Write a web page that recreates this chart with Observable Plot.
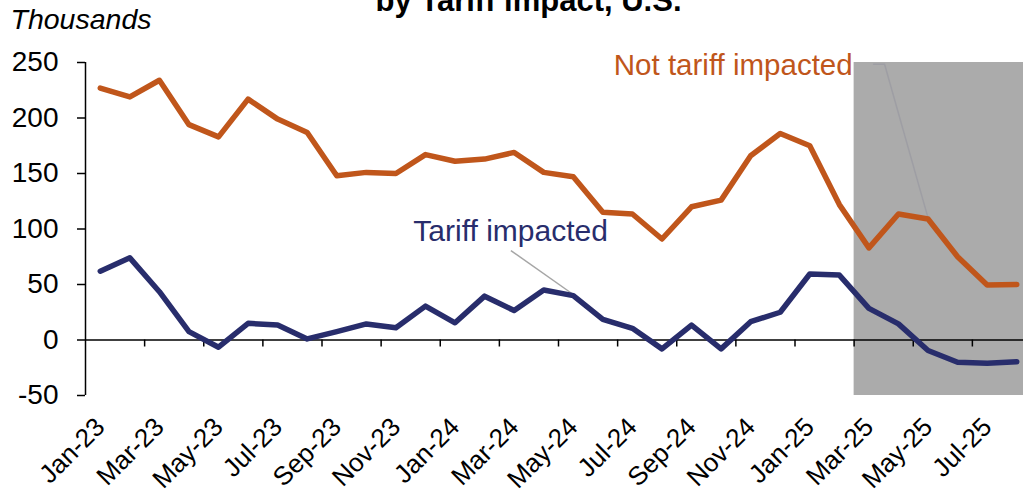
<!DOCTYPE html>
<html>
<head>
<meta charset="utf-8">
<script src="https://cdn.jsdelivr.net/npm/d3@7"></script>
<script src="https://cdn.jsdelivr.net/npm/@observablehq/plot@0.6"></script>
<style>
html, body { margin: 0; padding: 0; overflow: hidden; background: #fff; }
</style>
</head>
<body>
<div id="chart"></div>
<script>
// ---- data ----
const months = ["Jan-23","Feb-23","Mar-23","Apr-23","May-23","Jun-23","Jul-23","Aug-23","Sep-23","Oct-23","Nov-23","Dec-23",
                "Jan-24","Feb-24","Mar-24","Apr-24","May-24","Jun-24","Jul-24","Aug-24","Sep-24","Oct-24","Nov-24","Dec-24",
                "Jan-25","Feb-25","Mar-25","Apr-25","May-25","Jun-25","Jul-25","Aug-25"];
const notTariffImpacted = [227,219,234,194,183,217,199,187,148,151,150,167,161,163,169,151,147,115,113.5,91,120,126,166,186,175,122,83,113.5,109,75,49.5,50];
const tariffImpacted    = [62,74,43.5,7.5,-6.5,15,13.5,1,7.5,14.5,11,30.5,15.5,39.5,26.5,45,40,18.5,10.5,-8,13.5,-8,16.5,25,59.5,58.5,28.5,14.5,-9.5,-20,-21,-19.5];
const yTicks = [-50, 0, 50, 100, 150, 200, 250];
const xTickLabels = ["Jan-23","Mar-23","May-23","Jul-23","Sep-23","Nov-23","Jan-24","Mar-24","May-24","Jul-24","Sep-24","Nov-24","Jan-25","Mar-25","May-25","Jul-25"];
const shadedFrom = "Mar-25";
const titleText = "by Tariff impact, U.S.";
const unitText = "Thousands";
const labelNotTariff = {text: "Not tariff impacted", x: 25.45, y: 238.7};
const labelTariff = {text: "Tariff impacted", x: 10.59, y: 89.6};
const leaderNotTariff = [{x: 26.16, y: 248.4}, {x: 26.53, y: 248.4}, {x: 28, y: 110}];
const leaderTariff = [{x1: 13.89, y1: 80.6, x2: 16, y2: 41}];

// ---- derived ----
const ORANGE = "#C0561B";
const NAVY = "#282D6C";
const data = months.map((m, i) => ({i, month: m, nt: notTariffImpacted[i], t: tariffImpacted[i]}));
const n = months.length;
const boundaries = d3.range(1.5, n, 2);
const shade = [{x1: months.indexOf(shadedFrom) - 0.5, x2: n - 0.5, y1: d3.min(yTicks), y2: d3.max(yTicks)}];
const labelData = xTickLabels.map(l => ({x: months.indexOf(l), label: l}));

const chart = Plot.plot({
  width: 1023,
  height: 501,
  marginLeft: 85,
  marginRight: 0,
  marginTop: 62,
  marginBottom: 106,
  style: {fontFamily: "'Liberation Sans', Arial, sans-serif", background: "#fff", overflow: "hidden", color: "#000"},
  x: {domain: [-0.5, n - 0.5], range: [85, 1031], axis: null},
  y: {domain: [d3.min(yTicks), d3.max(yTicks)], axis: null},
  marks: [
    Plot.rect(shade, {x1: "x1", x2: "x2", y1: "y1", y2: "y2", fill: "#ABABAB"}),
    Plot.ruleX([-0.5], {y1: d3.min(yTicks), y2: d3.max(yTicks), stroke: "#000", strokeWidth: 1.5}),
    Plot.axisY(yTicks, {tickSize: 8, tickPadding: 19, fontSize: 28, tickFormat: d => String(d), stroke: "#000", strokeWidth: 1.5}),
    Plot.ruleY([0], {stroke: "#000", strokeWidth: 1.5}),
    Plot.ruleX(boundaries, {x: d => d, y1: 0, y2: 0, insetBottom: -7, stroke: "#000", strokeWidth: 1.5}),
    Plot.text(labelData, {x: "x", text: "label", frameAnchor: "bottom", rotate: -45, textAnchor: "end", lineAnchor: "bottom", dx: 6, dy: 33, fontSize: 26, fill: "#000"}),
    Plot.link(leaderTariff, {x1: "x1", y1: "y1", x2: "x2", y2: "y2", stroke: "#A6A6A6", strokeWidth: 1.5}),
    Plot.line(leaderNotTariff, {x: "x", y: "y", stroke: "#9E9EA4", strokeWidth: 1.5}),
    Plot.line(data, {x: "i", y: "nt", stroke: ORANGE, strokeWidth: 5.5, strokeLinejoin: "round", strokeLinecap: "round"}),
    Plot.line(data, {x: "i", y: "t", stroke: NAVY, strokeWidth: 5.5, strokeLinejoin: "round", strokeLinecap: "round"}),
    Plot.text([labelNotTariff], {x: "x", y: "y", text: "text", textAnchor: "end", lineAnchor: "bottom", fontSize: 29.5, fill: ORANGE}),
    Plot.text([labelTariff], {x: "x", y: "y", text: "text", textAnchor: "start", lineAnchor: "bottom", fontSize: 30, fill: NAVY}),
    Plot.text([unitText], {text: d => d, frameAnchor: "top-left", dx: -75, dy: -34, textAnchor: "start", lineAnchor: "bottom", fontSize: 28.5, fontStyle: "italic", fill: "#000"}),
    Plot.text([titleText], {text: d => d, frameAnchor: "top", dx: -26, dy: -52, lineAnchor: "bottom", fontSize: 31, fontWeight: "bold", fill: "#000"})
  ]
});
document.getElementById("chart").appendChild(chart);
</script>
</body>
</html>
